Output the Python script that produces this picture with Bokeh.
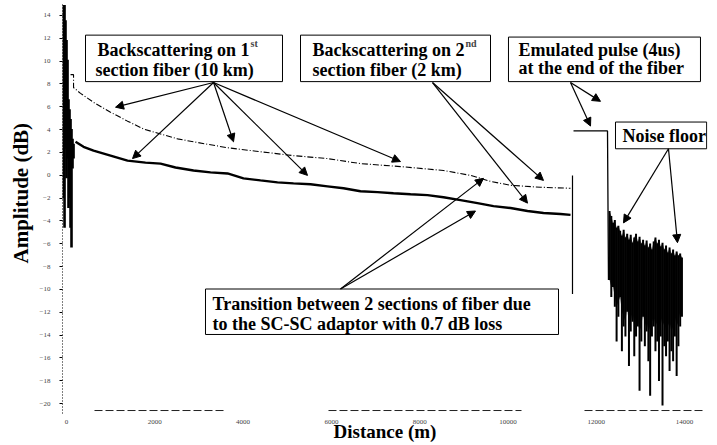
from bokeh.plotting import figure
from bokeh.models import Range1d, Label, Arrow, NormalHead, FixedTicker, Title
from bokeh.embed import file_html
from bokeh.resources import INLINE

# ---------------- data ----------------
x_ticks = [0, 2000, 4000, 6000, 8000, 10000, 12000, 14000]
y_ticks = [14, 12, 10, 8, 6, 4, 2, 0, -2, -4, -6, -8, -10, -12, -14, -16, -18, -20]

# lower solid trace
solid_dist = [204, 385, 612, 997, 1382, 1789, 2129, 2469, 2877, 3262, 3647, 4009, 4394,
              4779, 5142, 5527, 5912, 6274, 6659, 7044, 7406, 7792, 8177, 8539, 8924,
              9309, 9672, 10057, 10442, 10804, 11189, 11416]
solid_amp = [2.93, 2.49, 2.15, 1.72, 1.28, 1.11, 1.02, 0.68, 0.42, 0.25, 0.16, -0.27, -0.45,
             -0.62, -0.71, -0.79, -0.97, -1.14, -1.40, -1.48, -1.57, -1.66, -1.74, -1.92, -2.18,
             -2.44, -2.70, -2.87, -3.13, -3.30, -3.39, -3.47]

# upper dash-dot trace
dashdot_dist = [91, 159, 159, 317, 612, 997, 1382, 1744, 2129, 2514, 2877, 3647, 4394, 5142,
                5912, 6659, 7565, 8539, 9151, 9604, 10057, 10736, 11416]
dashdot_amp = [8.81, 8.81, 7.68, 7.17, 6.39, 5.52, 4.74, 4.05, 3.62, 3.19, 2.93, 2.41, 2.06, 1.72,
               1.46, 1.02, 0.76, 0.42, -0.01, -0.53, -0.88, -1.05, -1.14]

# end-of-fiber drop
drop_dist = [11461, 11461]
drop_amp = [-0.01, -10.39]

# emulated pulse
pulse_dist = [11484, 12254, 12276]
pulse_amp = [3.88, 3.88, -9.18]

# launch spike near 0 m
spike_dist = [-68, -45, -23, 0, 23, 45, 68, 91, 113, 136, 159]
spike_top = [14.9, 14.9, 13.57, 11.84, 10.11, 6.65, 5.78, 4.92, 4.05, 3.19, 2.75]
spike_bottom = [-2.0, -4.6, 2.32, -0.27, 1.46, -2.87, -2.0, -4.6, -6.33, 0.59, 1.46]

# noise floor after the pulse (envelope per sample)
noise_dist = [12300, 12340, 12380, 12420, 12460, 12500, 12540, 12580, 12620, 12660, 12700,
              12740, 12780, 12820, 12860, 12900, 12940, 12980, 13020, 13060, 13100, 13140,
              13180, 13220, 13260, 13300, 13340, 13380, 13420, 13460, 13500, 13540, 13580,
              13620, 13660, 13700, 13740, 13780, 13820, 13860, 13900, 13940]
noise_top = [-3.13, -3.56, -4.17, -3.91, -4.60, -4.42, -4.86, -5.29, -4.77, -5.46, -5.12,
             -5.64, -5.20, -5.90, -5.46, -5.12, -5.81, -5.38, -5.98, -5.64, -6.15, -5.72,
             -6.33, -5.98, -6.50, -5.81, -5.46, -5.98, -5.64, -6.24, -5.90, -6.50, -6.15,
             -6.76, -6.33, -6.85, -6.50, -7.02, -6.67, -7.02, -6.85, -7.19]
noise_core = [-9.18, -9.79, -9.79, -10.65, -11.52, -11.09, -10.65, -11.95, -12.38, -12.82,
              -11.52, -13.25, -12.82, -11.95, -13.25, -12.38, -12.82, -13.68, -13.25, -11.95,
              -13.25, -12.82, -13.68, -13.25, -12.82, -12.38, -13.25, -12.82, -13.68, -12.38,
              -13.25, -12.82, -13.68, -13.25, -12.82, -13.68, -13.25, -12.38, -13.25, -12.82,
              -11.95, -11.09]
noise_bottom = [-9.18, -10.65, -9.79, -11.52, -14.55, -12.38, -10.65, -15.41, -13.25, -14.11,
                -11.95, -16.71, -13.68, -12.82, -15.84, -14.11, -13.25, -18.87, -14.55, -12.38,
                -14.98, -13.68, -16.28, -19.30, -14.11, -13.25, -15.41, -14.55, -18.01, -14.11,
                -20.17, -14.98, -15.84, -14.55, -17.14, -15.41, -16.28, -14.11, -17.57, -14.98,
                -13.25, -12.38]

# faint floor line segments at the bottom
floor_dist = [[634, 3624], [5934, 10306], [11733, 14450]]
floor_amp = [[-20.6, -20.6], [-20.6, -20.6], [-20.6, -20.6]]

# ---------------- figure ----------------
p = figure(width=716, height=444, output_backend="svg", toolbar_location=None,
           x_range=Range1d(-91, 14519), y_range=Range1d(-20.86, 15.04),
           min_border_left=62, min_border_right=9, min_border_top=3, min_border_bottom=26)
p.grid.visible = False
p.outline_line_color = None
p.background_fill_color = "white"
p.border_fill_color = "white"

FONT = "Liberation Serif"

p.xaxis.ticker = FixedTicker(ticks=x_ticks)
p.yaxis.ticker = FixedTicker(ticks=y_ticks)
for ax in (p.xaxis, p.yaxis):
    ax.major_label_text_font = FONT
    ax.major_label_text_font_size = "7px"
    ax.major_label_text_color = "#444444"
    ax.minor_tick_line_color = None
    ax.axis_label_text_font = FONT
    ax.axis_label_text_font_style = "bold"
    ax.axis_label_text_color = "black"
p.xaxis.axis_line_color = None
p.xaxis.major_tick_line_color = None
p.xaxis.major_label_standoff = 0
p.xaxis.axis_label = "Distance (m)"
p.xaxis.axis_label_text_font_size = "19px"
p.xaxis.axis_label_standoff = -6
p.yaxis.axis_line_color = "black"
p.yaxis.axis_line_dash = "1 2"
p.yaxis.major_tick_out = 3
p.yaxis.major_tick_in = 0
p.yaxis.major_label_standoff = 9

ytitle = Title(text="Amplitude (dB)", align="left", offset=150, text_font=FONT,
               text_font_style="bold", text_font_size="21px", text_color="black", standoff=8)
p.add_layout(ytitle, "left")

# traces
p.multi_line(floor_dist, floor_amp, line_color="#222222", line_width=1, line_dash="8 3")
p.segment(x0=spike_dist, y0=spike_top, x1=spike_dist, y1=spike_bottom,
          line_color="black", line_width=2.6)
p.line(dashdot_dist, dashdot_amp, line_color="black", line_width=1.1, line_dash="6 2 1 2")
p.line(solid_dist, solid_amp, line_color="black", line_width=2.4)
p.line(drop_dist, drop_amp, line_color="black", line_width=1.2)
p.line(pulse_dist, pulse_amp, line_color="black", line_width=1.3)
p.varea(x=noise_dist, y1=noise_top, y2=noise_core, fill_color="#1a1a1a", fill_alpha=0.85)
p.segment(x0=noise_dist, y0=noise_top, x1=noise_dist, y1=noise_bottom,
          line_color="black", line_width=2.0)

# annotation boxes
box_left = [430, 5300, 10011, 12435, 3148]
box_right = [4892, 9604, 14360, 14500, 11144]
box_top = [12.27, 12.27, 12.10, 4.66, -9.96]
box_bottom = [8.20, 8.20, 8.20, 2.32, -13.94]
p.quad(left=box_left, right=box_right, top=box_top, bottom=box_bottom,
       fill_color="white", line_color="black", line_width=1)

texts = [
    ("Backscattering on 1", 702, 10.97),
    ("section fiber (10 km)", 657, 9.24),
    ("Backscattering on 2", 5572, 10.97),
    ("section fiber (2 km)", 5572, 9.24),
    ("Emulated pulse (4us)", 10238, 10.97),
    ("at the end of the fiber", 10238, 9.42),
    ("Noise floor", 12593, 3.45),
    ("Transition between 2 sections of fiber due", 3307, -11.26),
    ("to the SC-SC adaptor with 0.7 dB loss", 3307, -12.99),
]
for t, x, y in texts:
    p.add_layout(Label(x=x, y=y, text=t, text_font=FONT, text_font_style="bold",
                       text_font_size="18px", text_baseline="middle", text_align="left",
                       text_color="black"))
for t, x, y in [("st", 702, 11.5), ("nd", 5572, 11.5)]:
    p.add_layout(Label(x=x, y=y, x_offset=153, text=t, text_font=FONT, text_font_style="bold",
                       text_font_size="10px", text_baseline="middle", text_align="left"))

arrows = [
    (3330, 8.12, 1110, 5.96), (3330, 8.12, 1495, 1.46), (3330, 8.12, 3783, 2.93),
    (3330, 8.12, 5459, -0.01), (3330, 8.12, 7565, 1.20),
    (8290, 8.12, 10804, -0.45), (8290, 8.12, 10442, -2.44),
    (11416, 8.12, 12095, 6.47), (11416, 8.12, 11869, 4.31),
    (13635, 2.32, 12616, -4.17), (13635, 2.32, 13839, -5.90),
    (6206, -9.96, 9445, -0.27), (6206, -9.96, 9264, -3.13),
]
for xs, ys, xe, ye in arrows:
    p.add_layout(Arrow(end=NormalHead(size=8, fill_color="black", line_color="black", line_width=1),
                       x_start=xs, y_start=ys, x_end=xe, y_end=ye,
                       line_color="black", line_width=1.2))

open("out.html", "w").write(file_html(p, INLINE))
